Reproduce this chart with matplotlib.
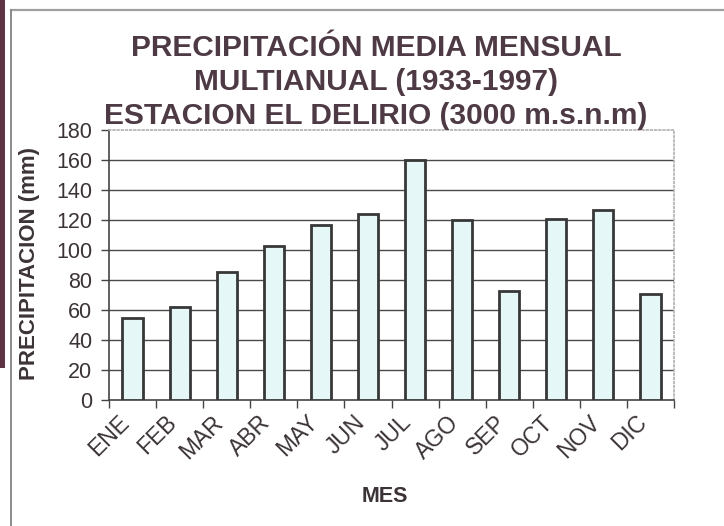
import matplotlib
matplotlib.use("Agg")
import matplotlib.pyplot as plt
import matplotlib.transforms as mtransforms
import numpy as np
from matplotlib.lines import Line2D
from matplotlib.patches import Rectangle

plt.rcParams["font.family"] = ["Liberation Sans", "DejaVu Sans"]

meses = ["ENE", "FEB", "MAR", "ABR", "MAY", "JUN",
         "JUL", "AGO", "SEP", "OCT", "NOV", "DIC"]
precip = [55, 62, 85.5, 103, 116.5, 124, 160, 120, 73, 120.5, 126.5, 70.5]
y_ticks = [0, 20, 40, 60, 80, 100, 120, 140, 160, 180]
titulo = ["PRECIPITACIÓN MEDIA MENSUAL",
          "MULTIANUAL (1933-1997)",
          "ESTACION EL DELIRIO (3000 m.s.n.m)"]

W, H = 724, 526
TXT = "#3b3337"
TITLE_C = "#4e3a44"

fig = plt.figure(figsize=(W / 100, H / 100), dpi=100)
fig.patch.set_facecolor("white")

# outer frame of the chart (top + left only) and the dark strip on the left edge
fig.add_artist(Line2D([11 / W, 1], [1 - 10 / H, 1 - 10 / H], color="#a0a0a0", lw=1.6))
fig.add_artist(Line2D([11 / W, 11 / W], [0, 1 - 10 / H], color="#8a8a8a", lw=1.4))
fig.add_artist(Rectangle((0, 1 - 368 / H), 5 / W, 368 / H, color="#5e3444", lw=0))

ax = fig.add_axes([109 / W, 1 - 400 / H, (674 - 109) / W, 270 / H])
x = np.arange(len(meses))
ax.bar(x, precip, width=0.43, color="#e6f7f7", edgecolor="#383838", linewidth=2, zorder=3)

ax.set_xlim(-0.5, len(meses) - 0.5)
ax.set_ylim(0, 180)
ax.set_yticks(y_ticks)
ax.set_yticklabels([str(v) for v in y_ticks], fontsize=15.5, color=TXT)
ax.tick_params(axis="y", direction="out", length=6, width=1, color="#444", pad=6)

# tick marks between categories, labels centred under each bar
ax.set_xticks(x)
ax.set_xticklabels(meses, rotation=45, ha="right", rotation_mode="anchor",
                   fontsize=16.5, color=TXT)
ax.tick_params(axis="x", which="major", length=0, pad=0)
shift = mtransforms.ScaledTranslation(-0.15, -0.11, fig.dpi_scale_trans)
for lbl in ax.get_xticklabels():
    lbl.set_transform(lbl.get_transform() + shift)
ax.set_xticks(np.arange(-0.5, len(meses)), minor=True)
ax.tick_params(axis="x", which="minor", direction="out", length=6, width=1, color="#444")

for v in y_ticks[1:-1]:
    ax.axhline(v, color="#4a4a4a", lw=1, zorder=1)

for s in ["left", "bottom"]:
    ax.spines[s].set_color("#444")
    ax.spines[s].set_linewidth(1.2)
for s in ["top", "right"]:
    ax.spines[s].set_color("#b0b0b0")
    ax.spines[s].set_linewidth(1.2)
    ax.spines[s].set_linestyle((0, (1, 1.5)))

fig.text(30 / W, 1 - 263 / H, "PRECIPITACION (mm)", rotation=90, ha="center", va="center",
         fontsize=16, fontweight="bold", color=TXT)
fig.text(385 / W, 1 - 497 / H, "MES", ha="center", va="center",
         fontsize=15.5, fontweight="bold", color=TXT)

for i, linea in enumerate(titulo):
    fig.text(376 / W, 1 - (47.5 + 34 * i) / H, linea, ha="center", va="center",
             fontsize=21.5, fontweight="bold", color=TITLE_C)

fig.savefig("out.png", dpi=100)
